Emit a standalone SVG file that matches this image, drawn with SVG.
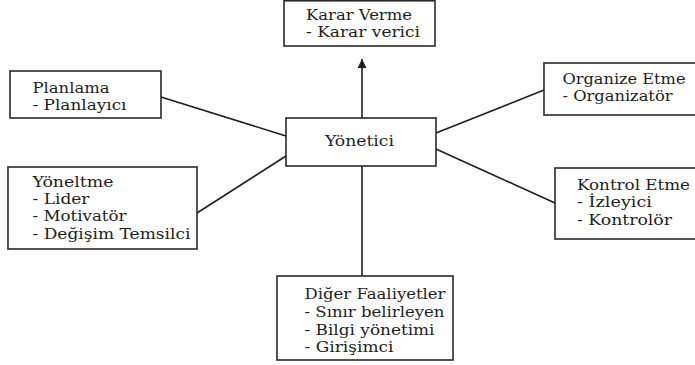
<svg xmlns="http://www.w3.org/2000/svg" width="695" height="365" viewBox="0 0 695 365">
<style>
.box{fill:#fff;stroke:#2a2a2a;stroke-width:1.6}
.t{font-family:'DejaVu Serif','Liberation Serif',serif;font-size:15px;fill:#1e1e1e}
.c{stroke:#1e1e1e;stroke-width:1.6;fill:none}
</style>
<defs>
<marker id="ah" viewBox="0 0 10 10" refX="10" refY="5" markerWidth="10" markerHeight="9" orient="auto" markerUnits="userSpaceOnUse">
<path d="M0,0 L10,5 L0,10 z" fill="#1e1e1e"/>
</marker>
</defs>
<rect width="695" height="365" fill="#fff"/>
<g id="connectors">
<line class="c" x1="362" y1="118" x2="362" y2="59" marker-end="url(#ah)"/>
<line class="c" x1="161" y1="97" x2="286" y2="136"/>
<line class="c" x1="197" y1="213" x2="286" y2="156"/>
<line class="c" x1="362" y1="166" x2="362" y2="276"/>
<line class="c" x1="436" y1="133" x2="544" y2="90"/>
<line class="c" x1="436" y1="149" x2="555" y2="203"/>
</g>
<g id="karar">
<rect class="box" x="284" y="0.8" width="151" height="45.2"/>
<text class="t" x="306" y="20" textLength="106" lengthAdjust="spacingAndGlyphs">Karar Verme</text>
<text class="t" x="306" y="37" textLength="114" lengthAdjust="spacingAndGlyphs">- Karar verici</text>
</g>
<g id="planlama">
<rect class="box" x="10" y="71" width="151" height="47"/>
<text class="t" x="32.5" y="93" textLength="77" lengthAdjust="spacingAndGlyphs">Planlama</text>
<text class="t" x="32.5" y="110" textLength="94" lengthAdjust="spacingAndGlyphs">- Planlayıcı</text>
</g>
<g id="yonetici">
<rect class="box" x="286" y="118" width="150" height="48"/>
<text class="t" x="325" y="146" textLength="69" lengthAdjust="spacingAndGlyphs">Yönetici</text>
</g>
<g id="yoneltme">
<rect class="box" x="8" y="167" width="189" height="82"/>
<text class="t" x="32.5" y="186.5" textLength="81" lengthAdjust="spacingAndGlyphs">Yöneltme</text>
<text class="t" x="32.5" y="203.5" textLength="57" lengthAdjust="spacingAndGlyphs">- Lider</text>
<text class="t" x="32.5" y="221" textLength="94" lengthAdjust="spacingAndGlyphs">- Motivatör</text>
<text class="t" x="32.5" y="238.5" textLength="158" lengthAdjust="spacingAndGlyphs">- Değişim Temsilci</text>
</g>
<g id="diger">
<rect class="box" x="277" y="276" width="176" height="84"/>
<text class="t" x="304.5" y="299" textLength="141" lengthAdjust="spacingAndGlyphs">Diğer Faaliyetler</text>
<text class="t" x="304.5" y="317" textLength="140" lengthAdjust="spacingAndGlyphs">- Sınır belirleyen</text>
<text class="t" x="304.5" y="334.5" textLength="130" lengthAdjust="spacingAndGlyphs">- Bilgi yönetimi</text>
<text class="t" x="304.5" y="352" textLength="89" lengthAdjust="spacingAndGlyphs">- Girişimci</text>
</g>
<g id="organize">
<rect class="box" x="544" y="63" width="160" height="52"/>
<text class="t" x="562.5" y="83.5" textLength="123" lengthAdjust="spacingAndGlyphs">Organize Etme</text>
<text class="t" x="562.5" y="101" textLength="110" lengthAdjust="spacingAndGlyphs">- Organizatör</text>
</g>
<g id="kontrol">
<rect class="box" x="555" y="168" width="150" height="71"/>
<text class="t" x="577" y="190" textLength="113" lengthAdjust="spacingAndGlyphs">Kontrol Etme</text>
<text class="t" x="577" y="207" textLength="75" lengthAdjust="spacingAndGlyphs">- İzleyici</text>
<text class="t" x="577" y="224.5" textLength="95" lengthAdjust="spacingAndGlyphs">- Kontrolör</text>
</g>
</svg>
